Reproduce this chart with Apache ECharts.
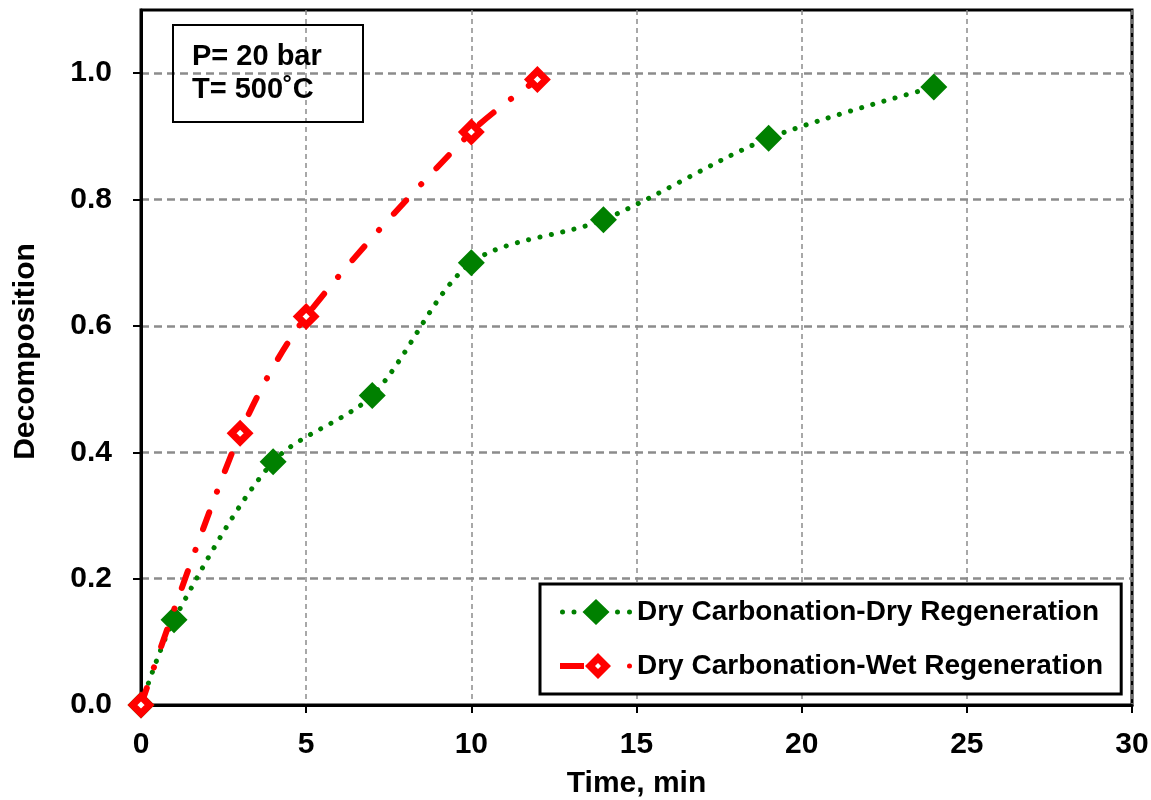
<!DOCTYPE html>
<html>
<head>
<meta charset="utf-8">
<script src="https://cdn.jsdelivr.net/npm/echarts@6/dist/echarts.min.js"></script>
<style>
  html, body { margin: 0; padding: 0; background: #fff; }
  #chart { width: 1151px; height: 800px; }
</style>
</head>
<body>
<div id="chart"></div>
<script>
const dryTime = [0, 1, 4, 7, 10, 14, 19, 24]
const dryValues = [0, 0.135, 0.385, 0.49, 0.70, 0.768, 0.897, 0.978]
const wetTime = [0, 3, 5, 10, 12]
const wetValues = [0, 0.43, 0.615, 0.907, 0.99]
const yTicks = [0, 0.2, 0.4, 0.6, 0.8, 1.0]
const seriesNames = ['Dry Carbonation-Dry Regeneration', 'Dry Carbonation-Wet Regeneration']

const font = '"Liberation Sans", Arial, sans-serif'
const gridColor = '#8c8c8c'

// legend icons: dotted line + filled diamond, dash + hollow diamond + dot
const dot = x => `M${x - 2.5},13a2.5,2.5 0 1,0 5,0a2.5,2.5 0 1,0 -5,0Z`
const dryIcon = 'path://' + dot(2.5) + dot(14) + 'M36,0L49.5,13L36,26L22.5,13Z' + dot(57.5) + dot(69.5)
const wetIcon = 'path://M0,10L24,10L24,16L0,16Z M38,0L51,13L38,26L25,13Z M38,10L35,13L38,16L41,13Z' + dot(69.5)

const chart = echarts.init(document.getElementById('chart'))

chart.setOption({
  backgroundColor: '#fff',
  animation: false,
  textStyle: { fontFamily: font },
  grid: {
    left: 141, right: 19, top: 10, bottom: 95,
    outerBoundsMode: 'none',
    show: true, borderColor: '#000', borderWidth: 3
  },
  title: {
    text: 'P= 20 bar\nT= 500˚C',
    left: 173, top: 25,
    borderColor: '#000', borderWidth: 2,
    padding: [15, 41, 16, 19],
    textStyle: { fontFamily: font, fontSize: 29, fontWeight: 'bold', color: '#000', lineHeight: 33 }
  },
  legend: {
    orient: 'vertical',
    left: 540, top: 584,
    padding: [14, 18, 14, 20],
    borderColor: '#000', borderWidth: 3,
    backgroundColor: '#fff',
    itemWidth: 72, itemHeight: 26, itemGap: 26,
    textStyle: { fontFamily: font, fontSize: 28, fontWeight: 'bold', color: '#000', lineHeight: 28 },
    data: [
      { name: seriesNames[0], icon: dryIcon, itemStyle: { color: '#008000', borderWidth: 0 } },
      { name: seriesNames[1], icon: wetIcon, itemStyle: { color: '#ff0000', borderWidth: 0 } }
    ]
  },
  xAxis: {
    type: 'value', min: 0, max: 30, interval: 5,
    name: 'Time, min', nameLocation: 'middle', nameGap: 64,
    nameTextStyle: { fontFamily: font, fontSize: 30, fontWeight: 'bold', color: '#000' },
    axisLine: { lineStyle: { color: '#000', width: 3 } },
    axisTick: { inside: false, length: 8, lineStyle: { color: '#000', width: 2 } },
    axisLabel: { margin: 25, fontFamily: font, fontSize: 30, fontWeight: 'bold', color: '#000' },
    splitLine: { show: true, lineStyle: { color: gridColor, width: 1.5, type: [5, 4] } }
  },
  yAxis: {
    type: 'value', min: 0, max: 1.1, interval: 0.2,
    name: 'Decomposition', nameLocation: 'middle', nameGap: 100, nameRotate: 90,
    nameTextStyle: { fontFamily: font, fontSize: 30, fontWeight: 'bold', color: '#000', padding: [0, 0, 0, 12] },
    axisLine: { show: true, lineStyle: { color: '#000', width: 3 } },
    axisTick: { show: true, length: 8, customValues: yTicks, lineStyle: { color: '#000', width: 2 } },
    axisLabel: {
      margin: 29, fontFamily: font, fontSize: 30, fontWeight: 'bold', color: '#000',
      customValues: yTicks,
      formatter: v => v.toFixed(1)
    },
    splitLine: { show: true, lineStyle: { color: gridColor, width: 2.5, type: [8, 5] } }
  },
  series: [
    {
      name: seriesNames[0],
      type: 'line',
      data: dryTime.map((t, i) => [t, dryValues[i]]),
      smooth: 0.3,
      symbol: 'diamond',
      symbolSize: 27,
      itemStyle: { color: '#008000' },
      lineStyle: { color: '#008000', width: 5, type: [0.1, 11.5], cap: 'round' },
      z: 3
    },
    {
      name: seriesNames[1],
      type: 'line',
      data: wetTime.map((t, i) => [t, wetValues[i]]),
      smooth: 0.3,
      symbol: 'diamond',
      symbolSize: 17,
      itemStyle: { color: '#fff', borderColor: '#ff0000', borderWidth: 7 },
      lineStyle: { color: '#ff0000', width: 6, type: [18, 22, 0.1, 22], cap: 'round' },
      z: 4
    }
  ]
})
</script>
</body>
</html>
